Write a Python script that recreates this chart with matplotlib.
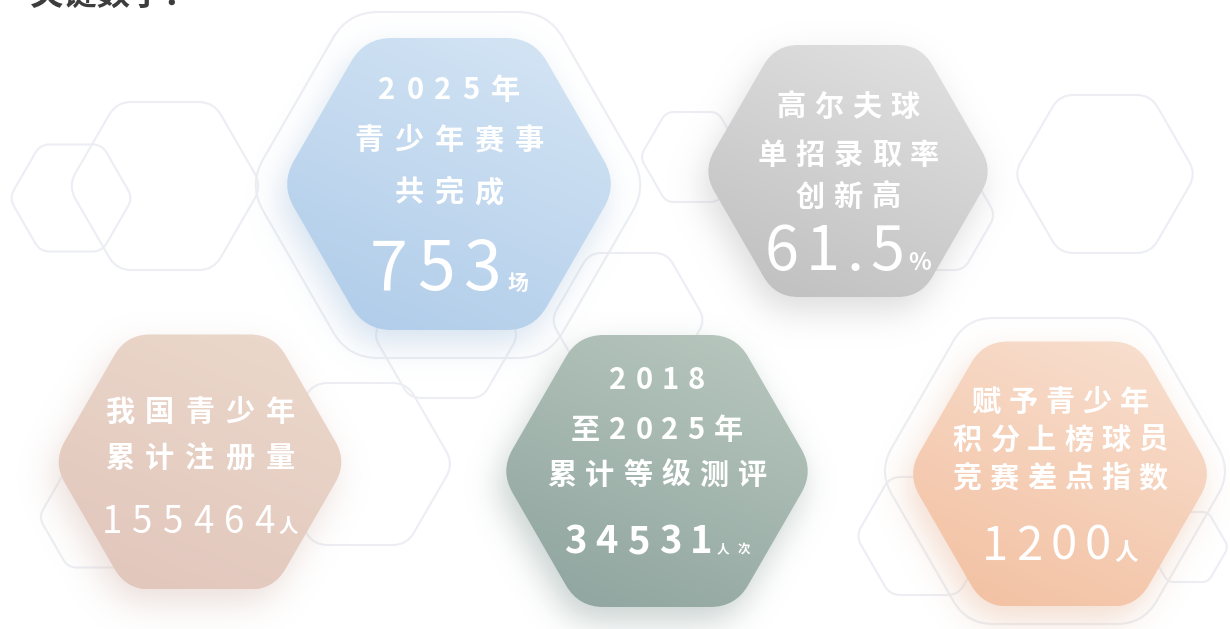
import numpy as np
import matplotlib
matplotlib.use('Agg')
import matplotlib.pyplot as plt
from matplotlib.path import Path
from matplotlib.patches import PathPatch
from matplotlib.colors import to_rgb
from matplotlib.font_manager import FontProperties, findfont
from matplotlib.ft2font import FT2Font

plt.rcParams['font.family'] = ['Noto Sans CJK SC', 'DejaVu Sans']

W, H = 1230, 629

# card texts and figures
card_titles = [
    ['2025年', '青少年赛事', '共完成'],
    ['高尔夫球', '单招录取率', '创新高'],
    ['我国青少年', '累计注册量'],
    ['2018', '至2025年', '累计等级测评'],
    ['赋予青少年', '积分上榜球员', '竞赛差点指数'],
]
card_values = ['753', '61.5', '155464', '34531', '1200']
card_units = ['场', '%', '人', '人次', '人']
heading = '关键数字：'

# layout of the cards (pixels, y down)
card_xy = [(449, 184), (848, 171), (200, 462), (657, 471), (1060, 474)]
card_h = [292, 252, 255, 272, 265]
card_top = ['#d6e6f5', '#e3e3e3', '#ecd9cc', '#bac9c0', '#f8e1d2']
card_bot = ['#aecbe9', '#bebebe', '#e1c5bb', '#8da39d', '#f3bf9f']
title_y = [[90, 140, 192], [107, 155, 197], [412, 458], [380, 430, 475], [402, 440, 478]]
title_size = 21
title_track = [11, 9, 11, 9, 8]
num_base = [290, 270, 533, 553, 560]
num_size = [49, 44, 26.5, 27.5, 34]
num_weight = ['normal', 'normal', 'normal', 'bold', 'normal']
num_track = [9, 7, 10, 9, 8]
unit_size = [15, 17, 14, 9, 17]
unit_gap = [6, 4, 4, 4, 4]

# background outline hexagons: (cx, cy, height)
ghost = [(448, 185, 346), (71, 198, 107), (165, 186, 168), (1105, 174, 158),
         (692, 157, 90), (628, 320, 134), (360, 464, 162), (446, 335, 126),
         (1055, 471, 306), (924, 536, 118), (1188, 547, 70), (932, 215, 110),
         (97, 517, 101)]


def hex_path(cx, cy, h, r):
    R = h / np.sqrt(3)
    ang = np.deg2rad(np.arange(0, 360, 60))
    v = np.c_[cx + R * np.cos(ang), cy + R * np.sin(ang)]
    d = r / np.tan(np.deg2rad(60))
    verts, codes = [], []
    for i in range(6):
        p, prev, nxt = v[i], v[i - 1], v[(i + 1) % 6]
        a = p + (prev - p) / np.linalg.norm(prev - p) * d
        b = p + (nxt - p) / np.linalg.norm(nxt - p) * d
        verts.append(a)
        codes.append(Path.MOVETO if i == 0 else Path.LINETO)
        verts += [p, b]
        codes += [Path.CURVE3, Path.CURVE3]
    verts.append(verts[0])
    codes.append(Path.CLOSEPOLY)
    return Path(verts, codes)


_fonts = {}
def advance(ch, size, weight):
    if weight not in _fonts:
        _fonts[weight] = FT2Font(findfont(FontProperties(family='Noto Sans CJK SC', weight=weight)))
    f = _fonts[weight]
    f.set_size(size, 100)
    return f.load_char(ord(ch)).linearHoriAdvance / 65536


def spaced_width(s, size, track, weight):
    ws = [advance(c, size, weight) for c in s]
    return sum(ws) + track * (len(s) - 1), ws


def spaced(x0, y, s, size, track, weight='normal', va='center', color='white'):
    total, ws = spaced_width(s, size, track, weight)
    for c, w in zip(s, ws):
        ax.text(x0 + w / 2, y, c, ha='center', va=va, fontsize=size,
                fontweight=weight, color=color, zorder=6)
        x0 += w + track
    return total


fig = plt.figure(figsize=(W / 100, H / 100), dpi=100)
ax = fig.add_axes([0, 0, 1, 1])
ax.set_xlim(0, W)
ax.set_ylim(H, 0)
ax.axis('off')

# faint outline hexagons
for cx, cy, h in ghost:
    ax.add_patch(PathPatch(hex_path(cx, cy, h, 0.15 * h), facecolor='none',
                           edgecolor='#eceef3', lw=1.5, zorder=1))

# soft shadows
pad = 120
gx, gy = np.meshgrid(np.arange(-pad, W + pad) + 0.5, np.arange(-pad, H + pad) + 0.5)
pts = np.c_[gx.ravel(), gy.ravel()]
sig = 16
ky, kx = np.meshgrid(np.fft.fftfreq(gy.shape[0]), np.fft.fftfreq(gy.shape[1]), indexing='ij')
kern = np.exp(-2 * (np.pi * sig) ** 2 * (kx ** 2 + ky ** 2))
for (cx, cy), h, col in zip(card_xy, card_h, card_bot):
    poly = hex_path(cx - 6, cy + 14, h, 0.16 * h).to_polygons()[0]
    m = Path(poly).contains_points(pts).reshape(gx.shape).astype(float)
    b = np.real(np.fft.ifft2(np.fft.fft2(m) * kern))[pad:-pad, pad:-pad]
    img = np.zeros((H, W, 4))
    img[..., :3] = np.array(to_rgb(col)) * 0.95
    img[..., 3] = np.clip(b, 0, 1) * 0.45
    ax.imshow(img, extent=(0, W, H, 0), origin='upper', aspect='auto',
              interpolation='bilinear', zorder=2)

# gradient filled cards
u, v = np.meshgrid(np.linspace(0, 1, 200), np.linspace(0, 1, 200))
t = np.clip((v * 0.8 + (1 - u) * 0.4) / 1.2, 0, 1)[..., None]
for (cx, cy), h, c0, c1 in zip(card_xy, card_h, card_top, card_bot):
    R = h / np.sqrt(3)
    patch = PathPatch(hex_path(cx, cy, h, 0.16 * h), facecolor='none',
                      edgecolor='none', zorder=3)
    ax.add_patch(patch)
    grad = np.array(to_rgb(c0)) * (1 - t) + np.array(to_rgb(c1)) * t
    im = ax.imshow(grad, extent=(cx - R, cx + R, cy + h / 2, cy - h / 2),
                   origin='upper', aspect='auto', interpolation='bilinear', zorder=3)
    im.set_clip_path(patch)

# card texts
for i, (cx, cy) in enumerate(card_xy):
    for line, y in zip(card_titles[i], title_y[i]):
        w, _ = spaced_width(line, title_size, title_track[i], 'bold')
        spaced(cx - w / 2, y, line, title_size, title_track[i], 'bold')
    nw, _ = spaced_width(card_values[i], num_size[i], num_track[i], num_weight[i])
    uw, _ = spaced_width(card_units[i], unit_size[i], 8, 'bold')
    x0 = cx - (nw + unit_gap[i] + uw) / 2
    spaced(x0, num_base[i], card_values[i], num_size[i], num_track[i],
           num_weight[i], va='baseline')
    spaced(x0 + nw + unit_gap[i], num_base[i], card_units[i], unit_size[i], 8,
           'bold', va='baseline')

# heading, cut by the top edge as in the source
ax.text(30, 5, heading, ha='left', va='baseline', fontsize=24,
        fontweight='bold', color='#3d3d3d', zorder=7)

ax.set_xlim(0, W)
ax.set_ylim(H, 0)
fig.savefig('out.png', dpi=100, facecolor='white')
